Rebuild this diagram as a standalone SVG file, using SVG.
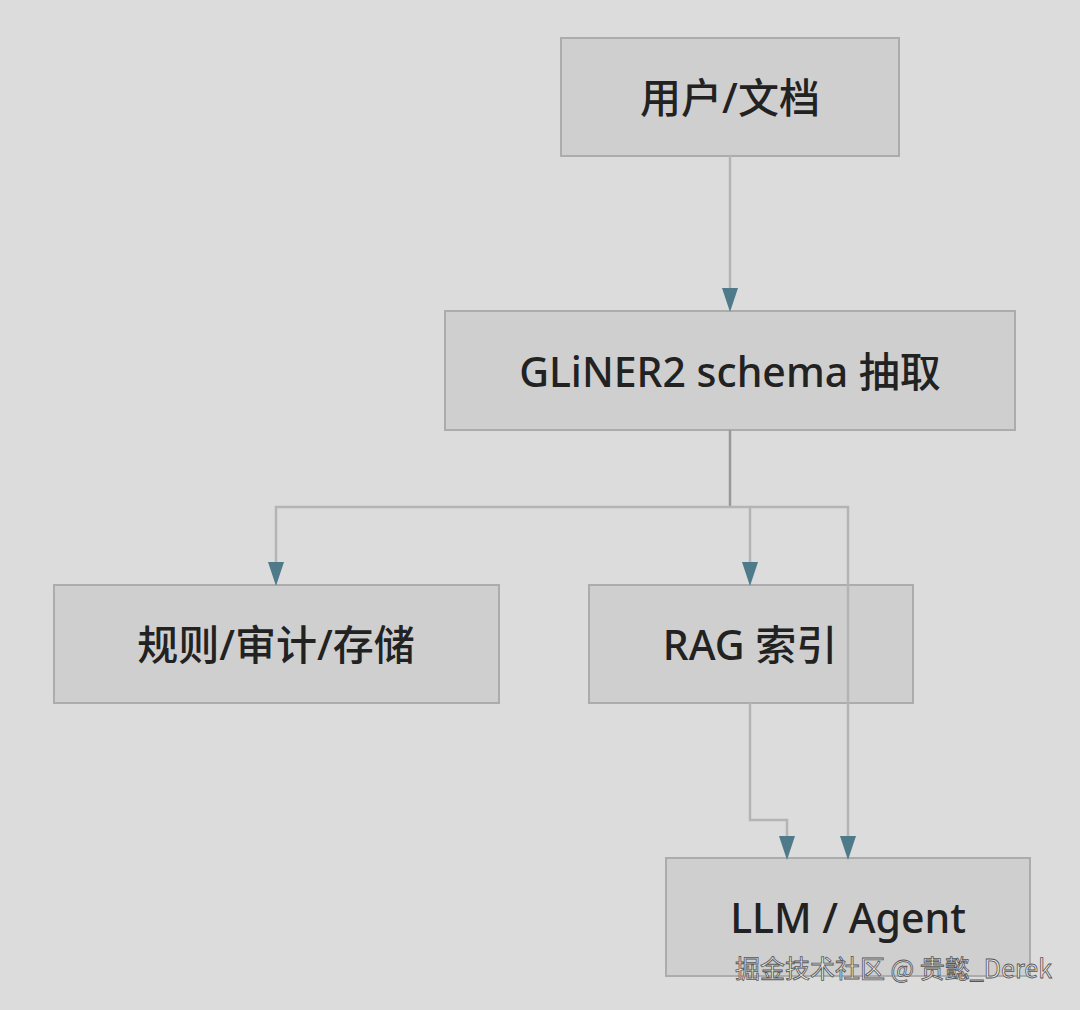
<svg xmlns="http://www.w3.org/2000/svg" width="1080" height="1010" viewBox="0 0 1080 1010">
<style>
.box{fill:#cfcfcf;stroke:#acacac;stroke-width:2}
.t{font-family:"Noto Sans","Noto Sans CJK SC",sans-serif;font-size:41px;font-weight:500;fill:#222;text-anchor:middle;dominant-baseline:central}
.c{fill:none;stroke:#b4b4b4;stroke-width:2.5}
.h{fill:#4f7a8a}
.wm{font-family:"Noto Sans CJK SC",sans-serif;font-size:25px;fill:#e8e8e8;stroke:#555;stroke-width:0.8}
</style>
<rect width="1080" height="1010" fill="#dcdcdc"/>
<g id="n1"><rect class="box" x="561" y="38" width="338" height="118"/><text class="t" x="730" y="97">用户/文档</text></g>
<g id="n2"><rect class="box" x="445" y="311" width="570" height="119"/><text class="t" x="730" y="371">GLiNER2 schema 抽取</text></g>
<g id="n3"><rect class="box" x="54" y="585" width="445" height="118"/><text class="t" x="276" y="644">规则/审计/存储</text></g>
<g id="n4"><rect class="box" x="589" y="585" width="324" height="118"/><text class="t" x="750" y="644">RAG 索引</text></g>
<g id="n5"><rect class="box" x="666" y="858" width="364" height="118"/><text class="t" x="848" y="917">LLM / Agent</text></g>
<g id="edges">
<path class="c" d="M730,156V290"/><path class="h" d="M722,288h16l-8,24z"/>
<path d="M730,430V507" stroke="#999" stroke-width="2.5" fill="none"/>
<path class="c" d="M730,507H276V564"/><path class="h" d="M268,562h16l-8,24z"/>
<path class="c" d="M730,507H750V564"/><path class="h" d="M742,562h16l-8,24z"/>
<path class="c" d="M750,507H848V838"/><path class="h" d="M840,836h16l-8,24z"/>
<path class="c" d="M750,703V820H787V838"/><path class="h" d="M779,836h16l-8,24z"/>
</g>
<text class="wm" x="735" y="978">掘金技术社区 @ 贵懿_Derek</text>
</svg>
